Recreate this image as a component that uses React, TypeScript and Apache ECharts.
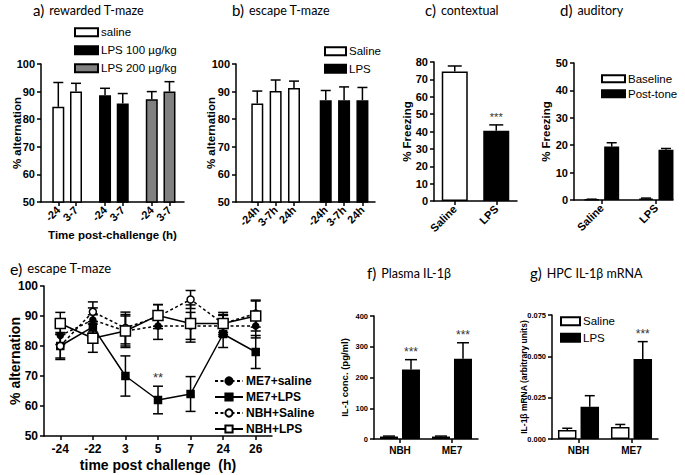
import React, { useEffect, useRef } from 'react';
import * as echarts from 'echarts';

// ---------- data ----------
// a) rewarded T-maze
const aTimes = ['-24', '3-7'];
const aGroups = ['saline', 'LPS 100 µg/kg', 'LPS 200 µg/kg'];
const aMeans = [[84.5, 90.0], [88.7, 85.7], [87.2, 90.0]];
const aErrs = [[8.8, 3.0], [2.5, 3.6], [2.8, 3.6]];
// b) escape T-maze
const bTimes = ['-24h', '3-7h', '24h'];
const bGroups = ['Saline', 'LPS'];
const bMeans = [[85.7, 90.2, 91.3], [86.9, 86.9, 86.9]];
const bErrs = [[4.5, 4.0, 2.5], [3.5, 4.8, 4.6]];
// c) contextual
const cCats = ['Saline', 'LPS'];
const cMeans = [74.5, 40.5];
const cErrs = [3.2, 3.3];
const cStars = ['', '***'];
// d) auditory
const dCats = ['Saline', 'LPS'];
const dBaseline = [0.2, 0.5];
const dBaselineErr = [0.1, 0.2];
const dPost = [19.5, 18.3];
const dPostErr = [1.4, 0.5];
// e) escape T-maze time course
const eTimes = ['-24', '-22', '3', '5', '7', '24', '26'];
const eNames = ['ME7+saline', 'ME7+LPS', 'NBH+Saline', 'NBH+LPS'];
const eMe7Saline = [83.5, 88.7, 85.0, 86.7, 86.7, 86.7, 86.7];
const eMe7SalineErr = [3.0, 4.0, 5.0, 4.5, 4.5, 3.5, 4.0];
const eMe7Lps = [80.0, 86.4, 70.0, 62.0, 64.0, 84.0, 78.0];
const eMe7LpsErr = [4.5, 4.0, 6.7, 4.6, 5.8, 4.5, 5.5];
const eNbhSaline = [80.0, 91.4, 86.0, 89.8, 95.5, 87.5, 90.8];
const eNbhSalineErr = [4.0, 3.3, 5.3, 4.0, 3.0, 3.0, 4.5];
const eNbhLps = [87.5, 82.6, 85.0, 90.2, 87.5, 87.5, 90.0];
const eNbhLpsErr = [3.7, 4.7, 5.5, 3.6, 6.2, 3.7, 5.0];
const eStars = ['', '', '', '**', '', '', ''];
// f) plasma IL-1b
const fCats = ['NBH', 'ME7'];
const fSaline = [8, 8];
const fSalineErr = [1.5, 1.5];
const fLps = [226, 261];
const fLpsErr = [32, 52];
const fStars = ['***', '***'];
// g) HPC IL-1b mRNA
const gCats = ['NBH', 'ME7'];
const gSaline = [0.0054, 0.0072];
const gSalineErr = [0.0011, 0.0016];
const gLps = [0.0195, 0.0484];
const gLpsErr = [0.0067, 0.0105];
const gStars = ['', '***'];

// ---------- styling helpers ----------
const FONT = "'Liberation Sans', Arial, Helvetica, sans-serif";
const TFONT = "Lato, 'Open Sans', sans-serif";
const BLACK = '#000';
const WHITE_BAR = { color: '#fff', borderColor: BLACK, borderWidth: 1.5 };
const BLACK_BAR = { color: BLACK, borderColor: BLACK, borderWidth: 1.5 };
const GREY_BAR = { color: '#808080', borderColor: BLACK, borderWidth: 1.5 };

const A_STEP = 2.64; // spacing between groups (panel a), in bar units
const B_STEP = 3.73; // spacing between groups (panel b)
const aPos = (g: number, k: number) => +(g * A_STEP + k).toFixed(3);
const bPos = (g: number, k: number) => +(g * B_STEP + k).toFixed(3);
const aPositions: number[] = [];
const aLabels: string[] = [];
aGroups.forEach((_, g) => aTimes.forEach((t, k) => { aPositions.push(aPos(g, k)); aLabels.push(t); }));
const bPositions: number[] = [];
const bLabels: string[] = [];
bGroups.forEach((_, g) => bTimes.forEach((t, k) => { bPositions.push(bPos(g, k)); bLabels.push(t); }));

const lookup = (pos: number[], labels: string[]) => (v: number) => {
  const i = pos.findIndex((p) => Math.abs(p - v) < 1e-3);
  return i >= 0 ? labels[i] : '';
};

const line = { show: true, onZero: false, lineStyle: { color: BLACK, width: 1.5 } };
const tick = (extra: any = {}) => ({ show: true, length: 4, lineStyle: { color: BLACK, width: 1.5 }, ...extra });

function yAxis(gridIndex: number, min: number, max: number, interval: number, name: string, nameGap: number, fs: number, nameFs: number, formatter?: any) {
  return {
    type: 'value', gridIndex, min, max, interval,
    name, nameLocation: 'middle', nameRotate: 90, nameGap, nameMoveOverlap: false,
    nameTextStyle: { fontFamily: FONT, fontWeight: 'bold', fontSize: nameFs, color: BLACK },
    axisLine: line, axisTick: tick(), splitLine: { show: false },
    axisLabel: { fontFamily: FONT, fontWeight: 'bold', fontSize: fs, color: BLACK, margin: 6, formatter },
  };
}

function errorBars(o: { x: number; y: number; data: number[][]; dx?: number; cap?: number; both?: boolean; stars?: string[]; starSize?: number; z?: number }) {
  const dx = o.dx ?? 0;
  const cap = o.cap ?? 4;
  const both = !!o.both;
  return {
    type: 'custom', xAxisIndex: o.x, yAxisIndex: o.y, z: o.z ?? 5, silent: true, clip: false,
    encode: { x: 0, y: 1 },
    data: o.data,
    renderItem: (params: any, api: any) => {
      const x = api.value(0), m = api.value(1), e = api.value(2);
      const mid = api.coord([x, m]);
      const top = api.coord([x, m + e]);
      const bot = api.coord([x, m - e]);
      const cx = mid[0] + dx;
      const style = { stroke: BLACK, lineWidth: 1.5 };
      const children: any[] = [
        { type: 'line', shape: { x1: cx, y1: both ? bot[1] : mid[1], x2: cx, y2: top[1] }, style },
        { type: 'line', shape: { x1: cx - cap, y1: top[1], x2: cx + cap, y2: top[1] }, style },
      ];
      if (both) children.push({ type: 'line', shape: { x1: cx - cap, y1: bot[1], x2: cx + cap, y2: bot[1] }, style });
      const s = o.stars && o.stars[params.dataIndex];
      if (s) {
        children.push({
          type: 'text', x: cx, y: top[1] - 2,
          style: { text: s, fill: '#333', fontSize: o.starSize ?? 12, fontFamily: FONT, align: 'center', verticalAlign: 'bottom' },
        });
      }
      return { type: 'group', children };
    },
  };
}

function title(left: number, top: number, letter: string, text: string, big: number, small: number) {
  return {
    left, top, padding: 0,
    text: `{a|${letter}} {b|${text}}`,
    textStyle: {
      fontWeight: 'normal',
      rich: {
        a: { fontFamily: TFONT, fontSize: big, color: BLACK, fontWeight: 'normal' },
        b: { fontFamily: TFONT, fontSize: small, color: BLACK, fontWeight: 'normal' },
      },
    },
  };
}

function legend(names: string[], left: number, top: number, itemWidth: number, itemHeight: number, itemGap: number, fs: number, bold = false, icon?: string) {
  return {
    data: names, left, top, orient: 'vertical', padding: 0, itemWidth, itemHeight, itemGap,
    selectedMode: false, icon,
    textStyle: { fontFamily: FONT, fontSize: fs, color: BLACK, fontWeight: bold ? 'bold' : 'normal', lineHeight: fs + 2, padding: [0, 0, 0, -2] },
  };
}

export default function App() {
  const ref = useRef<HTMLDivElement>(null);
  useEffect(() => {
    if (!ref.current) return;
    const chart = echarts.init(ref.current, undefined, { renderer: 'svg' });
    const grids = [
      { left: 41, top: 64, width: 143, height: 138 },
      { left: 236, top: 64, width: 139, height: 138 },
      { left: 434, top: 62, width: 83, height: 139 },
      { left: 574, top: 63, width: 99, height: 137 },
      { left: 44, top: 286, width: 228, height: 150 },
      { left: 374, top: 316, width: 104, height: 123 },
      { left: 552, top: 315, width: 106, height: 124 },
    ].map((g) => ({ ...g, containLabel: false, outerBoundsMode: 'none' }));

    const rotLabel = (fs: number, extra: any = {}) => ({ fontFamily: FONT, fontWeight: 'bold', fontSize: fs, color: BLACK, rotate: 45, margin: 6, ...extra });

    const xAxis: any[] = [
      {
        type: 'value', gridIndex: 0, min: -0.977, max: 7.1, splitLine: { show: false }, axisLine: line,
        axisTick: tick({ customValues: aPositions }),
        axisLabel: rotLabel(11, { customValues: aPositions, formatter: lookup(aPositions, aLabels) }),
        name: 'Time post-challenge (h)', nameLocation: 'middle', nameGap: 27, nameMoveOverlap: false,
        nameTextStyle: { fontFamily: FONT, fontWeight: 'bold', fontSize: 11.5, color: BLACK },
      },
      {
        type: 'value', gridIndex: 1, min: -1.16, max: 6.415, splitLine: { show: false }, axisLine: line,
        axisTick: tick({ customValues: bPositions }),
        axisLabel: rotLabel(11, { customValues: bPositions, formatter: lookup(bPositions, bLabels) }),
      },
      {
        type: 'category', gridIndex: 2, data: cCats, axisLine: line,
        axisTick: tick({ alignWithLabel: true }), axisLabel: rotLabel(11),
      },
      {
        type: 'value', gridIndex: 3, min: -0.51, max: 1.313, splitLine: { show: false }, axisLine: line,
        axisTick: tick({ customValues: [0, 1] }),
        axisLabel: rotLabel(11, { customValues: [0, 1], formatter: lookup([0, 1], dCats) }),
      },
      {
        type: 'category', gridIndex: 4, data: eTimes, axisLine: line,
        axisTick: tick({ alignWithLabel: true }),
        axisLabel: { fontFamily: FONT, fontWeight: 'bold', fontSize: 12, color: BLACK, margin: 7 },
        name: 'time post challenge  (h)', nameLocation: 'middle', nameGap: 22, nameMoveOverlap: false,
        nameTextStyle: { fontFamily: FONT, fontWeight: 'bold', fontSize: 14, color: BLACK },
      },
      {
        type: 'category', gridIndex: 5, data: fCats, axisLine: line,
        axisTick: tick({ alignWithLabel: true }),
        axisLabel: { fontFamily: FONT, fontWeight: 'bold', fontSize: 10, color: BLACK, margin: 6 },
      },
      {
        type: 'category', gridIndex: 6, data: gCats, axisLine: line,
        axisTick: tick({ alignWithLabel: true }),
        axisLabel: { fontFamily: FONT, fontWeight: 'bold', fontSize: 10, color: BLACK, margin: 6 },
      },
    ];

    const yAxes: any[] = [
      yAxis(0, 50, 100, 10, '% alternation', 18, 11, 11.5),
      yAxis(1, 50, 100, 10, '% alternation', 19, 11, 11.5),
      yAxis(2, 0, 80, 10, '% Freezing', 21, 11, 11.5),
      yAxis(3, 0, 50, 10, '% Freezing', 22, 11, 11.5),
      yAxis(4, 50, 100, 10, '% alternation', 22, 12, 14),
      yAxis(5, 0, 400, 100, 'IL-1 conc. (pg/ml)', 25, 7.5, 9.5),
      yAxis(6, 0, 0.075, 0.025, 'IL-1β mRNA (arbitrary units)', 23.5, 7.5, 8.5, (v: number) => v.toFixed(3)),
    ];

    const series: any[] = [];
    const aFills = [WHITE_BAR, BLACK_BAR, GREY_BAR];
    aGroups.forEach((name, g) => {
      series.push({
        type: 'bar', name, xAxisIndex: 0, yAxisIndex: 0, barWidth: 12, barGap: '-100%',
        itemStyle: aFills[g], data: aTimes.map((_, k) => [aPos(g, k), aMeans[g][k]]),
      });
      series.push(errorBars({ x: 0, y: 0, cap: 5, data: aTimes.map((_, k) => [aPos(g, k), aMeans[g][k], aErrs[g][k]]) }));
    });
    const bFills = [WHITE_BAR, BLACK_BAR];
    bGroups.forEach((name, g) => {
      series.push({
        type: 'bar', name, xAxisIndex: 1, yAxisIndex: 1, barWidth: 12, barGap: '-100%',
        itemStyle: bFills[g], data: bTimes.map((_, k) => [bPos(g, k), bMeans[g][k]]),
      });
      series.push(errorBars({ x: 1, y: 1, cap: 5, data: bTimes.map((_, k) => [bPos(g, k), bMeans[g][k], bErrs[g][k]]) }));
    });
    // c
    series.push({
      type: 'bar', name: 'contextual', xAxisIndex: 2, yAxisIndex: 2, barWidth: 26,
      data: cMeans.map((v, i) => ({ value: v, itemStyle: i === 0 ? WHITE_BAR : BLACK_BAR })),
    });
    series.push(errorBars({ x: 2, y: 2, cap: 7, stars: cStars, starSize: 11, data: cMeans.map((v, i) => [i, v, cErrs[i]]) }));
    // d
    series.push({ type: 'bar', name: 'Baseline', xAxisIndex: 3, yAxisIndex: 3, barWidth: 15, barGap: '33%', itemStyle: WHITE_BAR, data: dBaseline.map((v, i) => [i, v]) });
    series.push({ type: 'bar', name: 'Post-tone', xAxisIndex: 3, yAxisIndex: 3, barWidth: 15, barGap: '33%', itemStyle: BLACK_BAR, data: dPost.map((v, i) => [i, v]) });
    series.push(errorBars({ x: 3, y: 3, dx: -10, cap: 5, data: dBaseline.map((v, i) => [i, v, dBaselineErr[i]]) }));
    series.push(errorBars({ x: 3, y: 3, dx: 10, cap: 5, data: dPost.map((v, i) => [i, v, dPostErr[i]]) }));
    // e
    const eSets = [
      { v: eMe7Saline, e: eMe7SalineErr, symbol: 'circle', size: 6, fill: BLACK, dash: [3, 2.5] },
      { v: eMe7Lps, e: eMe7LpsErr, symbol: 'rect', size: 7, fill: BLACK, dash: 'solid' },
      { v: eNbhSaline, e: eNbhSalineErr, symbol: 'circle', size: 7, fill: '#fff', dash: [3, 2.5] },
      { v: eNbhLps, e: eNbhLpsErr, symbol: 'rect', size: 10, fill: '#fff', dash: 'solid' },
    ];
    eSets.forEach((s, i) => {
      series.push(errorBars({ x: 4, y: 4, both: true, cap: 5, z: 3, data: s.v.map((v, k) => [k, v, s.e[k]]), stars: i === 1 ? eStars : undefined, starSize: 13 }));
    });
    eSets.forEach((s, i) => {
      series.push({
        type: 'line', name: eNames[i], xAxisIndex: 4, yAxisIndex: 4, z: 4,
        data: s.v, symbol: s.symbol, symbolSize: s.size, showSymbol: true,
        lineStyle: { color: BLACK, width: 1.5, type: s.dash },
        itemStyle: { color: s.fill, borderColor: BLACK, borderWidth: 1.5 },
      });
    });
    // f
    series.push({ type: 'bar', name: 'Saline', xAxisIndex: 5, yAxisIndex: 5, barWidth: 18, barGap: '22%', itemStyle: WHITE_BAR, data: fSaline });
    series.push({ type: 'bar', name: 'LPS', xAxisIndex: 5, yAxisIndex: 5, barWidth: 18, barGap: '22%', itemStyle: BLACK_BAR, data: fLps });
    series.push(errorBars({ x: 5, y: 5, dx: -11, cap: 6, data: fSaline.map((v, i) => [i, v, fSalineErr[i]]) }));
    series.push(errorBars({ x: 5, y: 5, dx: 11, cap: 6, stars: fStars, starSize: 12, data: fLps.map((v, i) => [i, v, fLpsErr[i]]) }));
    // g
    series.push({ type: 'bar', name: 'Saline', xAxisIndex: 6, yAxisIndex: 6, barWidth: 18.5, barGap: '22%', itemStyle: WHITE_BAR, data: gSaline });
    series.push({ type: 'bar', name: 'LPS', xAxisIndex: 6, yAxisIndex: 6, barWidth: 18.5, barGap: '22%', itemStyle: BLACK_BAR, data: gLps });
    series.push(errorBars({ x: 6, y: 6, dx: -11.25, cap: 5, data: gSaline.map((v, i) => [i, v, gSalineErr[i]]) }));
    series.push(errorBars({ x: 6, y: 6, dx: 11.25, cap: 5, stars: gStars, starSize: 12, data: gLps.map((v, i) => [i, v, gLpsErr[i]]) }));

    chart.setOption({
      animation: false,
      backgroundColor: '#fff',
      title: [
        title(33, 1, 'a)', 'rewarded T-maze', 15, 12.5),
        title(232, 1, 'b)', 'escape T-maze', 15, 12.5),
        title(425, 1, 'c)', 'contextual', 15, 12.5),
        title(560, 1, 'd)', 'auditory', 15, 12.5),
        title(10, 259, 'e)', 'escape T-maze', 16, 13),
        title(367, 264, 'f)', 'Plasma IL-1β', 15, 12.5),
        title(530, 264, 'g)', 'HPC IL-1β mRNA', 15, 12.5),
      ],
      legend: [
        legend(aGroups, 74, 25.5, 23, 8, 4.5, 11.5, false, 'rect'),
        legend(bGroups, 324, 44.5, 21, 8, 4, 11.5, false, 'rect'),
        legend(['Baseline', 'Post-tone'], 601, 72, 23, 7, 1.5, 11.5, false, 'rect'),
        legend(eNames, 214, 374, 28, 9, 2, 12, true),
        legend(['Saline', 'LPS'], 560, 314.5, 19, 8, 3, 11.5, false, 'rect'),
      ],
      grid: grids,
      xAxis,
      yAxis: yAxes,
      series,
    });
    return () => chart.dispose();
  }, []);
  return <div ref={ref} style={{ position: 'fixed', left: 0, top: 0, width: 685, height: 475, background: '#fff' }} />;
}
